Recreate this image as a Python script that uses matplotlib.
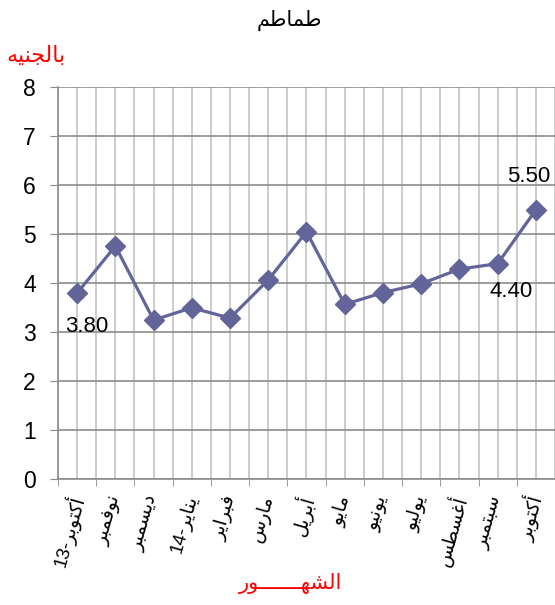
import matplotlib.pyplot as plt
import numpy as np

plt.rcParams['font.family'] = ['Liberation Sans', 'DejaVu Sans']

# data
months = ['أكتوبر', 'نوفمبر', 'ديسمبر', 'يناير', 'فبراير', 'مارس', 'أبريل',
          'مايو', 'يونيو', 'يوليو', 'أغسطس', 'سبتمبر', 'أكتوبر']
years = ['13', '', '', '14', '', '', '', '', '', '', '', '', '']
prices = [3.80, 4.76, 3.25, 3.50, 3.29, 4.07, 5.05, 3.57, 3.81, 3.99, 4.29, 4.40, 5.50]
labelled = {0: '3.80', 11: '4.40', 12: '5.50'}

title = 'طماطم'
ylabel = 'بالجنيه'
xlabel = 'الشهـــــــور'

# matplotlib does no arabic shaping, so do a small one here
forms = {
    'ا': 'ﺍﺎ', 'أ': 'ﺃﺄ', 'إ': 'ﺇﺈ', 'آ': 'ﺁﺂ', 'د': 'ﺩﺪ', 'ذ': 'ﺫﺬ',
    'ر': 'ﺭﺮ', 'ز': 'ﺯﺰ', 'و': 'ﻭﻮ', 'ة': 'ﺓﺔ', 'ى': 'ﻯﻰ',
    'ب': 'ﺏﺐﺑﺒ', 'ت': 'ﺕﺖﺗﺘ', 'ث': 'ﺙﺚﺛﺜ', 'ج': 'ﺝﺞﺟﺠ', 'ح': 'ﺡﺢﺣﺤ',
    'خ': 'ﺥﺦﺧﺨ', 'س': 'ﺱﺲﺳﺴ', 'ش': 'ﺵﺶﺷﺸ', 'ص': 'ﺹﺺﺻﺼ', 'ض': 'ﺽﺾﺿﻀ',
    'ط': 'ﻁﻂﻃﻄ', 'ظ': 'ﻅﻆﻇﻈ', 'ع': 'ﻉﻊﻋﻌ', 'غ': 'ﻍﻎﻏﻐ', 'ف': 'ﻑﻒﻓﻔ',
    'ق': 'ﻕﻖﻗﻘ', 'ك': 'ﻙﻚﻛﻜ', 'ل': 'ﻝﻞﻟﻠ', 'م': 'ﻡﻢﻣﻤ', 'ن': 'ﻥﻦﻧﻨ',
    'ه': 'ﻩﻪﻫﻬ', 'ي': 'ﻱﻲﻳﻴ', 'ـ': 'ــــ',
}


def shape(word):
    out = []
    for i, c in enumerate(word):
        if c not in forms:
            out.append(c)
            continue
        prev = word[i - 1] if i > 0 else ''
        nxt = word[i + 1] if i + 1 < len(word) else ''
        join_prev = prev in forms and len(forms[prev]) == 4
        join_next = len(forms[c]) == 4 and nxt in forms
        f = forms[c]
        if join_prev and join_next:
            out.append(f[3])
        elif join_prev:
            out.append(f[1])
        elif join_next:
            out.append(f[2])
        else:
            out.append(f[0])
    return ''.join(out)[::-1]


ticklabels = [(y + '-' if y else '') + shape(m) for m, y in zip(months, years)]

fig = plt.figure(figsize=(5.55, 6.05), dpi=100)
ax = fig.add_axes([0.1045, 0.2078, 0.8955, 0.6479])

x = np.arange(len(prices))
ax.plot(x, prices, color='#62649a', lw=2.3, marker='D', markersize=10.5, zorder=3)

for i, txt in labelled.items():
    off = {0: (7, -24), 11: (10, -20), 12: (-5, 24)}[i]
    ax.annotate(txt, (x[i], prices[i]), xytext=off, textcoords='offset points',
                ha='center', va='center', fontsize=16)

ax.set_xlim(-0.5, len(prices) - 0.5)
ax.set_ylim(0, 8)
ax.set_yticks(range(9))
ax.set_xticks(x)
ax.set_xticklabels(ticklabels, rotation=74, ha='right', va='center',
                   rotation_mode='anchor', fontsize=13.5)
ax.set_xticks(np.arange(-0.5, len(prices)), minor=True)
ax.tick_params(axis='x', which='major', length=0, pad=12)
ax.tick_params(axis='x', which='minor', length=5, color='#8c8c8c')
ax.tick_params(axis='y', length=6, color='#8c8c8c', labelsize=16.5, pad=10)

ax.grid(axis='y', color='#8c8c8c', lw=1.2)
ax.grid(axis='x', which='both', color='#c4c4c4', lw=1.2)
ax.set_axisbelow(True)
for s in ['top', 'right']:
    ax.spines[s].set_visible(False)
for s in ['left', 'bottom']:
    ax.spines[s].set_color('#8c8c8c')
    ax.spines[s].set_linewidth(1.2)

fig.text(0.521, 0.967, shape(title), ha='center', va='center', fontsize=15)
fig.text(0.065, 0.907, shape(ylabel), ha='center', va='center', fontsize=16, color='red')
fig.text(0.524, 0.035, shape(xlabel), ha='center', va='center', fontsize=15, color='red')

fig.savefig('out.png', dpi=100)
